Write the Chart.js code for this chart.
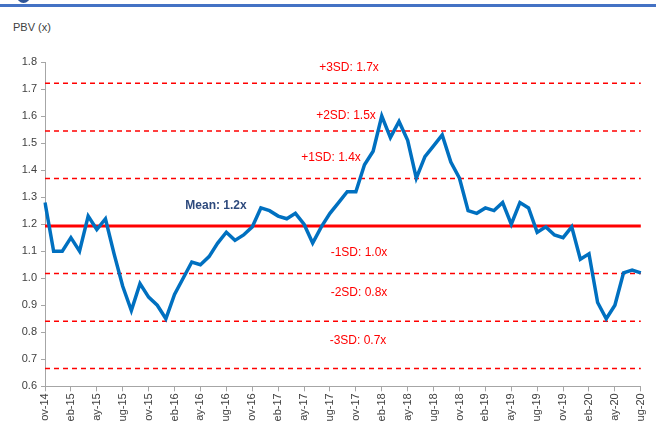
<!DOCTYPE html>
<html>
<head>
<meta charset="utf-8">
<script src="https://cdn.jsdelivr.net/npm/chart.js@4.4.1/dist/chart.umd.min.js"></script>
<style>
    html, body { margin: 0; padding: 0; background: #fff; overflow: hidden; }
    #wrap { position: relative; width: 656px; height: 421px; overflow: hidden; }
    #topbar { position: absolute; left: 0; top: 4px; width: 656px; height: 3px; background: #4472C4; }
    #dot { position: absolute; left: 17px; top: -10px; width: 13px; height: 13px; border-radius: 50%; background: #2F5597; }
    #ytitle { position: absolute; left: 13px; top: 21px; font: 11px "Liberation Sans", Arial, sans-serif; color: #404040; }
    canvas { position: absolute; left: 0; top: 0; }
</style>
</head>
<body>
<div id="wrap">
    <div id="topbar"></div>
    <div id="dot"></div>
    <div id="ytitle">PBV (x)</div>
    <canvas id="pbvChart" width="656" height="432"></canvas>
</div>
<script>
// Months Nov-14 .. Aug-20
const months = [
    'Nov-14', 'Dec-14',
    'Jan-15', 'Feb-15', 'Mar-15', 'Apr-15', 'May-15', 'Jun-15', 'Jul-15', 'Aug-15', 'Sep-15', 'Oct-15', 'Nov-15', 'Dec-15',
    'Jan-16', 'Feb-16', 'Mar-16', 'Apr-16', 'May-16', 'Jun-16', 'Jul-16', 'Aug-16', 'Sep-16', 'Oct-16', 'Nov-16', 'Dec-16',
    'Jan-17', 'Feb-17', 'Mar-17', 'Apr-17', 'May-17', 'Jun-17', 'Jul-17', 'Aug-17', 'Sep-17', 'Oct-17', 'Nov-17', 'Dec-17',
    'Jan-18', 'Feb-18', 'Mar-18', 'Apr-18', 'May-18', 'Jun-18', 'Jul-18', 'Aug-18', 'Sep-18', 'Oct-18', 'Nov-18', 'Dec-18',
    'Jan-19', 'Feb-19', 'Mar-19', 'Apr-19', 'May-19', 'Jun-19', 'Jul-19', 'Aug-19', 'Sep-19', 'Oct-19', 'Nov-19', 'Dec-19',
    'Jan-20', 'Feb-20', 'Mar-20', 'Apr-20', 'May-20', 'Jun-20', 'Jul-20', 'Aug-20'
];

// PBV (x)
const pbv = [
    1.28, 1.10, 1.10, 1.15, 1.10, 1.23, 1.18, 1.22, 1.09, 0.97,
    0.88, 0.98, 0.93, 0.90, 0.85, 0.94, 1.00, 1.06, 1.05, 1.08,
    1.13, 1.17, 1.14, 1.16, 1.19, 1.26, 1.25, 1.23, 1.22, 1.24,
    1.20, 1.13, 1.19, 1.24, 1.28, 1.32, 1.32, 1.42, 1.47, 1.60,
    1.52, 1.58, 1.51, 1.37, 1.45, 1.49, 1.53, 1.43, 1.37, 1.25,
    1.24, 1.26, 1.25, 1.28, 1.20, 1.28, 1.26, 1.17, 1.19, 1.16,
    1.15, 1.19, 1.07, 1.09, 0.91, 0.85, 0.90, 1.02, 1.03, 1.02
];

// Mean and standard deviation bands
const meanLevel = 1.193;
const sdLevels = [1.721, 1.545, 1.369, 1.017, 0.841, 0.666];
const sdLabels = ['+3SD: 1.7x', '+2SD: 1.5x', '+1SD: 1.4x', '-1SD: 1.0x', '-2SD: 0.8x', '-3SD: 0.7x'];
const meanLabel = 'Mean: 1.2x';

const yTicks = [0.6, 0.7, 0.8, 0.9, 1.0, 1.1, 1.2, 1.3, 1.4, 1.5, 1.6, 1.7, 1.8];

const FONT = '"Liberation Sans", Arial, sans-serif';

// Text placement for the band labels (pixels: centre x, gap above the line)
const sdTextPos = [[349, 16], [346, 15], [331, 21], [359, 21], [359, 28], [358, 28]];
const meanTextPos = [216, 20];

const bandLabelsPlugin = {
    id: 'bandLabels',
    afterDatasetsDraw(chart) {
        const ctx = chart.ctx;
        const y = chart.scales.y;
        ctx.save();
        ctx.textAlign = 'center';
        ctx.textBaseline = 'middle';
        ctx.font = '12px ' + FONT;
        ctx.fillStyle = '#FF0000';
        sdLevels.forEach((lvl, i) => {
            ctx.fillText(sdLabels[i], sdTextPos[i][0], y.getPixelForValue(lvl) - sdTextPos[i][1]);
        });
        ctx.font = 'bold 12px ' + FONT;
        ctx.fillStyle = '#2E4A7D';
        ctx.fillText(meanLabel, meanTextPos[0], y.getPixelForValue(meanLevel) - meanTextPos[1]);
        ctx.restore();
    }
};

const sdDatasets = sdLevels.map(lvl => ({
    data: months.map(() => lvl),
    borderColor: '#FF0000',
    borderWidth: 1.5,
    borderDash: [5, 4],
    pointRadius: 0,
    fill: false,
    order: 2
}));

const ctx = document.getElementById('pbvChart').getContext('2d');
new Chart(ctx, {
    type: 'line',
    data: {
        labels: months,
        datasets: [
            {
                label: 'PBV',
                data: pbv,
                borderColor: '#0070C0',
                borderWidth: 3.5,
                pointRadius: 0,
                tension: 0,
                fill: false,
                order: 0
            },
            {
                label: 'Mean',
                data: months.map(() => meanLevel),
                borderColor: '#FF0000',
                borderWidth: 3,
                pointRadius: 0,
                fill: false,
                order: 1
            },
            ...sdDatasets
        ]
    },
    options: {
        responsive: false,
        animation: false,
        layout: { padding: { left: 0, right: 10, top: 62, bottom: 0 } },
        plugins: {
            legend: { display: false },
            tooltip: { enabled: false }
        },
        scales: {
            x: {
                type: 'category',
                offset: false,
                grid: {
                    drawOnChartArea: false,
                    tickLength: 5,
                    color: c => (c.index % 3 === 0 ? '#A6A6A6' : 'rgba(0,0,0,0)')
                },
                border: { color: '#A6A6A6', width: 1 },
                ticks: {
                    autoSkip: false,
                    minRotation: 90,
                    maxRotation: 90,
                    padding: 2,
                    color: '#404040',
                    font: { family: FONT, size: 11 },
                    callback: function (val, i) { return i % 3 === 0 ? months[i] : ''; }
                }
            },
            y: {
                min: 0.6,
                max: 1.8,
                afterFit: s => { s.width = 45; },
                afterBuildTicks: s => { s.ticks = yTicks.map(v => ({ value: v })); },
                grid: { drawOnChartArea: false, tickLength: 4, color: '#A6A6A6' },
                border: { color: '#A6A6A6', width: 1 },
                ticks: {
                    padding: 4,
                    color: '#404040',
                    font: { family: FONT, size: 11 },
                    callback: v => v.toFixed(1)
                }
            }
        }
    },
    plugins: [bandLabelsPlugin]
});
</script>
</body>
</html>
